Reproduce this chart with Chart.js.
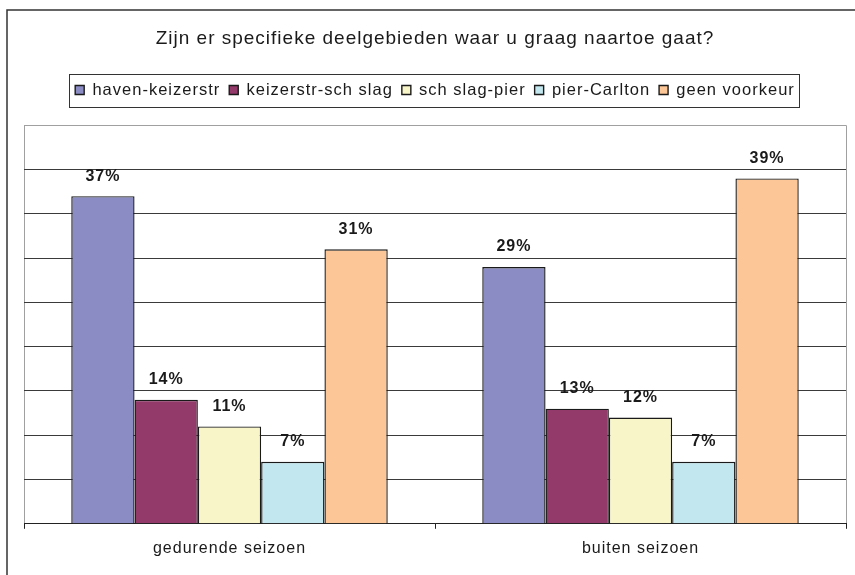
<!DOCTYPE html>
<html>
<head>
<meta charset="utf-8">
<script src="https://cdn.jsdelivr.net/npm/chart.js@4.4.0/dist/chart.umd.min.js"></script>
<style>
html,body{margin:0;padding:0;background:#fff;}
#wrap{width:855px;height:575px;position:relative;}
</style>
</head>
<body>
<div id="wrap"><canvas id="c"></canvas></div>
<script>
// ---- data ----
const chartTitle = 'Zijn er specifieke deelgebieden waar u graag naartoe gaat?';
const categories = ['gedurende seizoen', 'buiten seizoen'];
const seriesNames = ['haven-keizerstr', 'keizerstr-sch slag', 'sch slag-pier', 'pier-Carlton', 'geen voorkeur'];
const havenKeizerstr = [37, 29];
const keizerstrSchSlag = [14, 13];
const schSlagPier = [11, 12];
const pierCarlton = [7, 7];
const geenVoorkeur = [31, 39];
const yMin = 0, yMax = 45, yStep = 5;

// ---- styles ----
const seriesColors = ['#8A8CC3', '#933A6A', '#F8F6C8', '#C3E7EE', '#FCC696'];
const FONT = '"Liberation Sans", Arial, Helvetica, sans-serif';
const TEXT = '#1a1a1a';

Chart.defaults.font.family = FONT;

const seriesValues = [havenKeizerstr, keizerstrSchSlag, schSlagPier, pierCarlton, geenVoorkeur];

const letterSpacingPlugin = {
  id: 'letterSpacing',
  beforeUpdate(chart) { chart.ctx.letterSpacing = '1px'; },
  beforeLayout(chart) { chart.ctx.letterSpacing = '1px'; },
  beforeDraw(chart) { chart.ctx.letterSpacing = '1px'; }
};

const spacerPlugin = {
  id: 'spacer',
  beforeInit(chart) {
    const box = {
      position: 'top', weight: 10, fullSize: true, options: {},
      left: 0, top: 0, right: 0, bottom: 0, width: 0, height: 0,
      isHorizontal() { return true; },
      update(maxWidth) { this.width = maxWidth; this.height = 17; return this; },
      draw() {}
    };
    Chart.layouts.addBox(chart, box);
  }
};

const framePlugin = {
  id: 'frame',
  afterDraw(chart) {
    const ctx = chart.ctx;
    ctx.save();
    ctx.strokeStyle = '#333';
    ctx.lineWidth = 1.5;
    ctx.beginPath();
    ctx.moveTo(7, 575);
    ctx.lineTo(7, 10);
    ctx.lineTo(855, 10);
    ctx.stroke();
    const lg = chart.legend;
    if (lg && lg.legendHitBoxes && lg.legendHitBoxes.length) {
      const hb = lg.legendHitBoxes;
      const l = Math.min(...hb.map(h => h.left)) - 6;
      const r = Math.max(...hb.map(h => h.left + h.width)) + 4;
      ctx.lineWidth = 1;
      ctx.strokeStyle = '#333';
      ctx.strokeRect(Math.round(l) + 0.5, Math.round(lg.top) + 1.5, Math.round(r - l), 33);
    }
    ctx.restore();
  }
};

const valueLabelPlugin = {
  id: 'valueLabels',
  afterDatasetsDraw(chart) {
    const ctx = chart.ctx;
    ctx.save();
    ctx.letterSpacing = '1px';
    ctx.font = 'bold 16px ' + FONT;
    ctx.fillStyle = TEXT;
    ctx.textAlign = 'center';
    ctx.textBaseline = 'middle';
    chart.data.datasets.forEach((ds, i) => {
      chart.getDatasetMeta(i).data.forEach((bar, j) => {
        ctx.fillText(ds.data[j] + '%', bar.x, bar.y - 20);
      });
    });
    ctx.restore();
  }
};

new Chart(document.getElementById('c'), {
  type: 'bar',
  data: {
    labels: categories,
    datasets: seriesNames.map((name, i) => ({
      label: name,
      data: seriesValues[i],
      backgroundColor: seriesColors[i],
      borderColor: '#1a1a1a',
      borderWidth: 1.4,
      categoryPercentage: 0.77,
      barPercentage: 1.0
    }))
  },
  options: {
    responsive: true,
    maintainAspectRatio: false,
    animation: false,
    devicePixelRatio: 1,
    layout: { padding: { left: 24, right: 9, top: 0, bottom: 7 } },
    plugins: {
      title: {
        display: true, text: chartTitle, color: TEXT,
        font: { size: 19, weight: 'normal', family: FONT },
        padding: { top: 27, bottom: 23 }
      },
      legend: {
        position: 'top', align: 'center',
        labels: { boxWidth: 9, boxHeight: 9, padding: 9, color: TEXT, font: { size: 16.5, family: FONT } }
      },
      tooltip: { enabled: false }
    },
    scales: {
      x: {
        offset: true,
        grid: {
          display: true, drawOnChartArea: true, offset: true, drawTicks: true, tickLength: 5,
          color: ctx => ctx.index === 1 ? 'rgba(0,0,0,0)' : '#a0a0a0',
          tickColor: '#222', lineWidth: 1
        },
        border: { display: true, color: '#222', width: 1 },
        ticks: { color: TEXT, font: { size: 16, family: FONT }, padding: 10 }
      },
      y: {
        min: yMin, max: yMax,
        ticks: { display: false, stepSize: yStep },
        grid: { drawTicks: false, color: ctx => (ctx.tick && ctx.tick.value === yMax) ? '#a0a0a0' : '#3a3a3a', lineWidth: 1 },
        border: { display: false }
      }
    }
  },
  plugins: [letterSpacingPlugin, spacerPlugin, framePlugin, valueLabelPlugin]
});
</script>
</body>
</html>
